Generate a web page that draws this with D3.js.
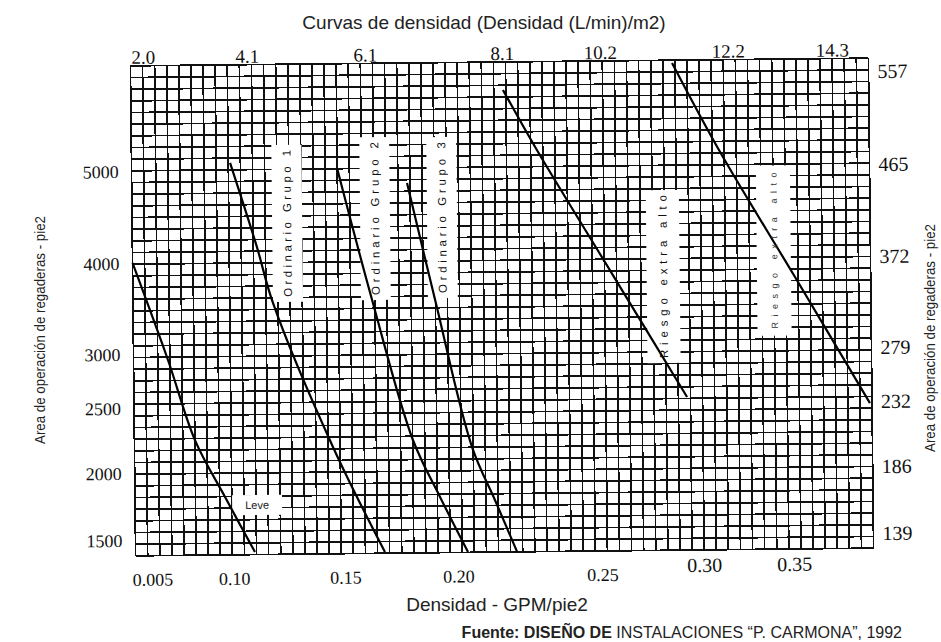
<!DOCTYPE html>
<html>
<head>
<meta charset="utf-8">
<script src="https://cdn.jsdelivr.net/npm/d3@7"></script>
<style>
  html, body { margin: 0; padding: 0; background: #fff; }
  svg { display: block; }
</style>
</head>
<body>
<div id="chart"></div>
<script>
// ---------------- DATA ----------------
// Curves: density (gpm/ft2) vs area of operation (ft2)
const curveNames = ["Leve", "Ordinario Grupo 1", "Ordinario Grupo 2", "Ordinario Grupo 3", "Riesgo extra alto 1", "Riesgo extra alto 2"];
const leveDensity = [0.0400, 0.0582, 0.0720, 0.0876, 0.1031];
const leveArea    = [4010, 2949, 2255, 1820, 1407];
const og1Density  = [0.0921, 0.1058, 0.1140, 0.1449, 0.1718];
const og1Area     = [5085, 4170, 3554, 2191, 1397];
const og2Density  = [0.1486, 0.1664, 0.1872, 0.2012, 0.2157];
const og2Area     = [5018, 3576, 2238, 1804, 1390];
const og3Density  = [0.1855, 0.1997, 0.2184, 0.2302, 0.2416];
const og3Area     = [4848, 3568, 2179, 1777, 1390];
const eh1Density  = [0.2367, 0.2543, 0.2933, 0.3323];
const eh1Area     = [5839, 5189, 3838, 2556];
const eh2Density  = [0.3262, 0.3511, 0.3900, 0.4289];
const eh2Area     = [6110, 5147, 3779, 2485];

// Curve label boxes (density range, area range)
const boxTexts     = ["Ordinario Grupo 1", "Ordinario Grupo 2", "Ordinario Grupo 3", "Riesgo extra alto", "Riesgo extra alto", "Leve"];
const boxDensityLo = [0.1140, 0.1605, 0.1959, 0.3116, 0.3699, 0.0913];
const boxDensityHi = [0.1299, 0.1763, 0.2117, 0.3291, 0.3879, 0.1177];
const boxAreaLo    = [3564, 3575, 3589, 2873, 3138, 1684];
const boxAreaHi    = [5272, 5347, 5340, 4742, 4996, 1833];
const boxVertical  = [true, true, true, true, true, false];

// Axis tick labels (as printed) and the density / area where each is printed
const bottomTickLabels = ["0.005", "0.10", "0.15", "0.20", "0.25", "0.30", "0.35"];
const bottomTickAt     = [0.049, 0.0923, 0.151, 0.2107, 0.2868, 0.3407, 0.3883];
const topTickLabels    = ["2.0", "4.1", "6.1", "8.1", "10.2", "12.2", "14.3"];
const topTickAt        = [0.0469, 0.1018, 0.1642, 0.2366, 0.2884, 0.356, 0.411];
const leftTickLabels   = ["1500", "2000", "2500", "3000", "4000", "5000"];
const leftTickAt       = [1500, 2000, 2500, 3000, 4000, 5000];
const rightTickLabels  = ["139", "186", "232", "279", "372", "465", "557"];
const rightTickAt      = [1500, 2000, 2500, 3000, 4000, 5000, 6000];

// Printed area scale (piecewise, as on the original chart)
const areaBreaks = [1388, 1500, 2000, 2500, 3000, 4000, 5000, 6000, 6140];

const gridCols = 61, gridRows = 42;

const titleText = "Curvas de densidad (Densidad (L/min)/m2)";
const xTitle = "Densidad - GPM/pie2";
const yTitleLeft = "Area de operación de regaderas - pie2";
const yTitleRight = "Area de operación de regaderas - pie2";
const sourceBold = "Fuente: DISEÑO DE";
const sourceRest = " INSTALACIONES \u201CP. CARMONA\u201D, 1992";

// ---------------- LAYOUT ----------------
const W = 941, H = 642;
const L = 133, R = 871, T = 62, B = 552;
const areaRange = [552, 537, 470, 405, 351, 260, 168, 75, 62];

const svg = d3.select("#chart").append("svg").attr("width", W).attr("height", H)
  .style("background", "#fff");

const x = d3.scaleLinear().domain([0.04, 0.43]).range([L, R]);
const y = d3.scaleLinear().domain(areaBreaks).range(areaRange);
const gx = d3.scaleLinear().domain([0, gridCols]).range([L, R]);
const gy = d3.scaleLinear().domain([0, gridRows]).range([B, T]);

const g = svg.append("g").attr("transform", "rotate(-0.6, 502, 307)");

// grid
const grid = g.append("g").attr("stroke", "#111").attr("stroke-width", 1.7).attr("shape-rendering", "crispEdges");
grid.selectAll("line.v").data(d3.range(gridCols + 1)).join("line").attr("class", "v")
  .attr("x1", d => gx(d)).attr("x2", d => gx(d)).attr("y1", T).attr("y2", B);
grid.selectAll("line.h").data(d3.range(gridRows + 1)).join("line").attr("class", "h")
  .attr("y1", d => gy(d)).attr("y2", d => gy(d)).attr("x1", L).attr("x2", R);

// label boxes
const boxes = boxTexts.map((t, i) => ({t, d0: boxDensityLo[i], d1: boxDensityHi[i], a0: boxAreaLo[i], a1: boxAreaHi[i], v: boxVertical[i], i}));
g.selectAll("rect.box").data(boxes).join("rect").attr("class", "box")
  .attr("x", d => x(d.d0)).attr("width", d => x(d.d1) - x(d.d0))
  .attr("y", d => y(d.a1)).attr("height", d => y(d.a0) - y(d.a1))
  .attr("fill", "#fff");

// curves
const curves = [
  [leveDensity, leveArea], [og1Density, og1Area], [og2Density, og2Area],
  [og3Density, og3Area], [eh1Density, eh1Area], [eh2Density, eh2Area]
].map(([ds, as]) => ds.map((d, i) => [d, as[i]]));
const line = d3.line().x(d => x(d[0])).y(d => y(d[1])).curve(d3.curveCatmullRom.alpha(0.5));
g.selectAll("path.curve").data(curves).join("path").attr("class", "curve")
  .attr("d", line).attr("fill", "none").attr("stroke", "#000").attr("stroke-width", 2.2);

// box texts
boxes.forEach(b => {
  const cx = (x(b.d0) + x(b.d1)) / 2, cy = (y(b.a0) + y(b.a1)) / 2;
  const len = y(b.a0) - y(b.a1);
  if (b.v) {
    const small = b.i === 4;
    g.append("text").attr("transform", `translate(${cx + (small ? 3.5 : 4)},${cy}) rotate(-90)`)
      .attr("text-anchor", "middle")
      .attr("font-family", "Liberation Sans, Arial, sans-serif")
      .attr("font-size", small ? 9 : 11.5)
      .attr("fill", small ? "#333" : "#111")
      .attr("textLength", len - (small ? 14 : 10)).attr("lengthAdjust", "spacing")
      .text(b.t);
  } else {
    g.append("text").attr("x", cx).attr("y", cy + 4).attr("text-anchor", "middle")
      .attr("font-family", "Liberation Sans, Arial, sans-serif").attr("font-size", 11)
      .attr("fill", "#222").text(b.t);
  }
});

// tick labels
const serif = "Liberation Serif, Times New Roman, serif";
g.selectAll("text.bt").data(bottomTickLabels).join("text").attr("class", "bt")
  .attr("x", (d, i) => x(bottomTickAt[i])).attr("y", (d, i) => i >= 5 ? 574 : 582)
  .attr("text-anchor", "middle").attr("font-family", serif).attr("font-size", (d, i) => i >= 5 ? 20 : 18)
  .attr("fill", "#111").text(d => d);
g.selectAll("text.tt").data(topTickLabels).join("text").attr("class", "tt")
  .attr("x", (d, i) => x(topTickAt[i])).attr("y", T - 2)
  .attr("text-anchor", "middle").attr("font-family", serif).attr("font-size", 19)
  .attr("fill", "#111").text(d => d);
g.selectAll("text.lt").data(leftTickLabels).join("text").attr("class", "lt")
  .attr("x", 120).attr("y", (d, i) => y(leftTickAt[i]) + 6)
  .attr("text-anchor", "end").attr("font-family", serif).attr("font-size", 18)
  .attr("fill", "#111").text(d => d);
g.selectAll("text.rt").data(rightTickLabels).join("text").attr("class", "rt")
  .attr("x", 880).attr("y", (d, i) => y(rightTickAt[i]) + 7)
  .attr("text-anchor", "start").attr("font-family", serif).attr("font-size", 20)
  .attr("fill", "#111").text(d => d);

// titles
const sans = "Liberation Sans, Arial, sans-serif";
svg.append("text").attr("x", 484).attr("y", 29).attr("text-anchor", "middle")
  .attr("font-family", sans).attr("font-size", 19).attr("fill", "#222").text(titleText);
svg.append("text").attr("x", 497).attr("y", 611).attr("text-anchor", "middle")
  .attr("font-family", sans).attr("font-size", 19).attr("fill", "#222").text(xTitle);
svg.append("text").attr("transform", "translate(45,330) rotate(-90)").attr("text-anchor", "middle")
  .attr("font-family", sans).attr("font-size", 14)
  .attr("textLength", 228).attr("lengthAdjust", "spacingAndGlyphs")
  .attr("fill", "#222").text(yTitleLeft);
svg.append("text").attr("transform", "translate(935,338) rotate(-90)").attr("text-anchor", "middle")
  .attr("font-family", sans).attr("font-size", 14)
  .attr("textLength", 228).attr("lengthAdjust", "spacingAndGlyphs")
  .attr("fill", "#222").text(yTitleRight);
const src = svg.append("text").attr("x", 902).attr("y", 638).attr("text-anchor", "end")
  .attr("font-family", sans).attr("font-size", 16).attr("fill", "#222");
src.append("tspan").attr("font-weight", "bold").text(sourceBold);
src.append("tspan").text(sourceRest);
</script>
</body>
</html>
